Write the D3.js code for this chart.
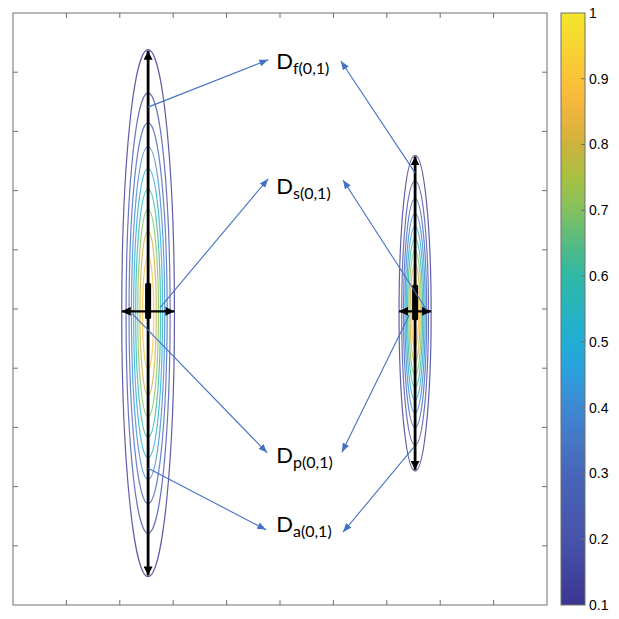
<!DOCTYPE html>
<html><head><meta charset="utf-8">
<script src="https://cdn.jsdelivr.net/npm/d3@7"></script>
<style>body{margin:0;background:#fff}svg{display:block}</style></head>
<body><svg id="c" width="619" height="619"></svg>
<script>
// ---- data ----
const xTicks = [1,2,3,4,5,6,7,8,9];
const yTicks = [1,2,3,4,5,6,7,8,9];
const levels = [0.1,0.2,0.3,0.4,0.5,0.6,0.7,0.8,0.9];
const blobCX = [2.53, 7.53];
const blobCY = [4.93, 4.93];
const blobSX = [0.230, 0.140];
const blobSY = [2.074, 1.243];
const barTop = [5.44, 5.41];
const barBottom = [4.83, 4.81];
const labelSubs = ["f(0,1)", "s(0,1)", "p(0,1)", "a(0,1)"];
const labelX = [4.93, 4.93, 4.93, 4.93];
const labelY = [9.05, 6.94, 2.40, 1.23];
const arrowFromX = [2.53, 7.53, 2.75, 7.75, 2.23, 7.42, 2.53, 7.51];
const arrowFromY = [8.41, 7.30, 5.02, 4.98, 4.92, 4.90, 2.31, 2.67];
const arrowToX   = [4.78, 6.14, 4.78, 6.18, 4.76, 6.16, 4.74, 6.18];
const arrowToY   = [9.21, 9.19, 7.20, 7.18, 2.57, 2.58, 1.27, 1.23];
const cbTicks = [0.1,0.2,0.3,0.4,0.5,0.6,0.7,0.8,0.9,1];
const cmapStops  = [0.1, 0.2, 0.3, 0.35, 0.4, 0.45, 0.5, 0.6, 0.65, 0.7, 0.75, 0.8, 0.85, 0.9, 1.0];
const cmapColors = ["#3b3590","#4753aa","#4766b9","#4676c4","#3d88d2","#2c9edd","#20aed6","#2fb8a6","#55bb82","#84c160","#a8c142","#cdb23e","#f0b43c","#fcc23a","#f2e62a"];

// ---- setup ----
const svg = d3.select("#c");
const X0=13, X1=547, Y0=605, Y1=13;
const x = d3.scaleLinear().domain([0,10]).range([X0,X1]);
const y = d3.scaleLinear().domain([0,10]).range([Y0,Y1]);
const cmap = d3.scaleLinear().domain(cmapStops).range(cmapColors).interpolate(d3.interpolateRgb);
const cb = d3.scaleLinear().domain([0.1,1]).range([Y0,Y1]);

const defs = svg.append("defs");
function marker(id, color, len, wid){
  defs.append("marker").attr("id",id).attr("viewBox",`0 0 ${len} ${wid}`)
    .attr("refX",len).attr("refY",wid/2).attr("markerWidth",len).attr("markerHeight",wid)
    .attr("markerUnits","userSpaceOnUse").attr("orient","auto-start-reverse")
    .append("path").attr("d",`M0,0L${len},${wid/2}L0,${wid}Z`).attr("fill",color);
}
marker("bk","#000",9,9);
marker("bkh","#000",9,9);
marker("bl","#4472c4",9,7);

svg.append("rect").attr("x",X0).attr("y",Y1).attr("width",X1-X0).attr("height",Y0-Y1).attr("fill","#fff");

// ---- contours ----
const blobs = d3.range(blobCX.length);
blobs.forEach(i=>{
  const g = svg.append("g");
  g.selectAll("ellipse").data(levels).join("ellipse")
    .attr("cx", x(blobCX[i])).attr("cy", y(blobCY[i]))
    .attr("rx", l => x(blobCX[i] + blobSX[i]*Math.sqrt(-2*Math.log(l))) - x(blobCX[i]))
    .attr("ry", l => y(blobCY[i]) - y(blobCY[i] + blobSY[i]*Math.sqrt(-2*Math.log(l))))
    .attr("fill","none").attr("stroke", l => cmap(l)).attr("stroke-width",1.2).attr("stroke-opacity",0.8);
});

// ---- black arrows ----
const R0 = Math.sqrt(-2*Math.log(levels[0]));
blobs.forEach(i=>{
  const cx = blobCX[i], cy = blobCY[i];
  svg.append("line").attr("x1",x(cx)).attr("x2",x(cx))
    .attr("y1",y(cy)).attr("y2",y(cy + blobSY[i]*R0 - 0.02))
    .attr("stroke","#000").attr("stroke-width",2.8).attr("marker-end","url(#bk)");
  svg.append("line").attr("x1",x(cx)).attr("x2",x(cx))
    .attr("y1",y(cy)).attr("y2",y(cy - blobSY[i]*R0 + 0.02))
    .attr("stroke","#000").attr("stroke-width",2.8).attr("marker-end","url(#bk)");
  svg.append("line").attr("x1",x(cx - blobSX[i]*R0)).attr("x2",x(cx + blobSX[i]*R0))
    .attr("y1",y(cy + 0.03)).attr("y2",y(cy + 0.03))
    .attr("stroke","#000").attr("stroke-width",2.4)
    .attr("marker-start","url(#bkh)").attr("marker-end","url(#bkh)");
  svg.append("rect").attr("x",x(cx)-3).attr("width",6)
    .attr("y",y(barTop[i])).attr("height",y(barBottom[i])-y(barTop[i]))
    .attr("rx",1.5).attr("fill","#000");
});

// ---- blue arrows ----
svg.append("g").selectAll("line").data(d3.range(arrowFromX.length)).join("line")
  .attr("x1",i=>x(arrowFromX[i])).attr("y1",i=>y(arrowFromY[i]))
  .attr("x2",i=>x(arrowToX[i])).attr("y2",i=>y(arrowToY[i]))
  .attr("stroke","#4472c4").attr("stroke-width",1.1).attr("marker-end","url(#bl)");

// ---- labels ----
const lab = svg.append("g").attr("font-family","Lato, 'Open Sans', sans-serif").attr("fill","#000");
labelSubs.forEach((s,i)=>{
  const t = lab.append("text").attr("x",x(labelX[i])).attr("y",y(labelY[i]));
  t.append("tspan").attr("font-size",22).text("D");
  t.append("tspan").attr("font-size",16).attr("dy",5).text(s);
});

// ---- axes frame & ticks ----
const ax = svg.append("g").attr("stroke","#707070").attr("stroke-width",1);
ax.append("rect").attr("x",X0).attr("y",Y1).attr("width",X1-X0).attr("height",Y0-Y1).attr("fill","none");
const TL = 5;
ax.selectAll(".xb").data(xTicks).join("line").attr("x1",d=>x(d)).attr("x2",d=>x(d)).attr("y1",Y0).attr("y2",Y0-TL);
ax.selectAll(".xt").data(xTicks).join("line").attr("class","xt").attr("x1",d=>x(d)).attr("x2",d=>x(d)).attr("y1",Y1).attr("y2",Y1+TL);
ax.selectAll(".yl").data(yTicks).join("line").attr("class","yl").attr("y1",d=>y(d)).attr("y2",d=>y(d)).attr("x1",X0).attr("x2",X0+TL);
ax.selectAll(".yr").data(yTicks).join("line").attr("class","yr").attr("y1",d=>y(d)).attr("y2",d=>y(d)).attr("x1",X1).attr("x2",X1-TL);

// ---- colorbar ----
const CB0=561, CB1=585;
const grad = defs.append("linearGradient").attr("id","cbg").attr("x1",0).attr("x2",0).attr("y1",1).attr("y2",0);
grad.selectAll("stop").data(d3.range(0,1.0001,0.02)).join("stop")
  .attr("offset",t=>t).attr("stop-color",t=>cmap(0.1+0.9*t));
svg.append("rect").attr("x",CB0).attr("y",Y1).attr("width",CB1-CB0).attr("height",Y0-Y1)
  .attr("fill","url(#cbg)").attr("stroke","#707070").attr("stroke-width",1);
svg.append("g").attr("stroke","#707070").selectAll("line").data(cbTicks.slice(1,-1)).join("line")
  .attr("x1",CB1).attr("x2",CB1-4).attr("y1",d=>cb(d)).attr("y2",d=>cb(d));
svg.append("g").attr("font-family","'Liberation Sans', Arial, sans-serif").attr("font-size",14).attr("fill","#000")
  .selectAll("text").data(cbTicks).join("text")
  .attr("x",589).attr("y",d=>cb(d)).attr("dy","0.35em").text(d=>d3.format("")(d));
</script></body></html>
